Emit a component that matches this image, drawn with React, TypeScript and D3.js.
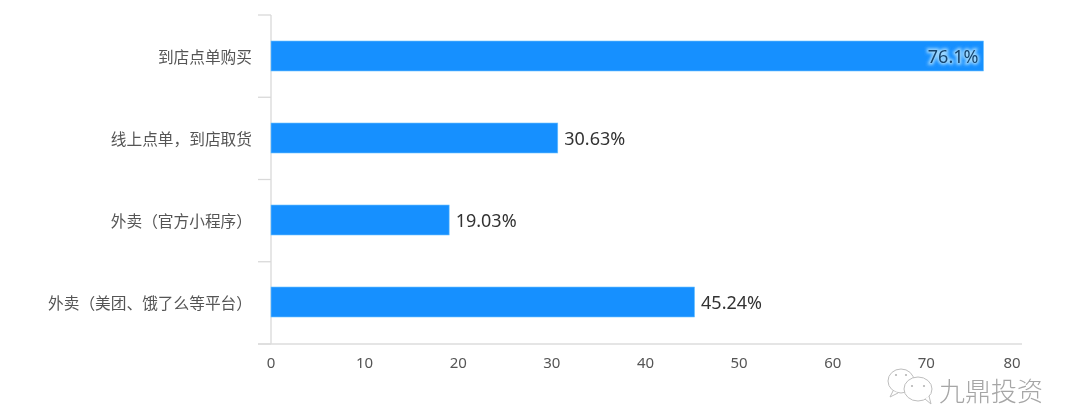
import React from "react";
import * as d3 from "d3";

const categories = ["到店点单购买", "线上点单，到店取货", "外卖（官方小程序）", "外卖（美团、饿了么等平台）"];
const values = [76.1, 30.63, 19.03, 45.24];
const valueLabels = ["76.1%", "30.63%", "19.03%", "45.24%"];
const xTicks = [0, 10, 20, 30, 40, 50, 60, 70, 80];
const watermark = "九鼎投资";

const FONT = '"Noto Sans CJK SC", "Noto Sans", sans-serif';
const x = d3.scaleLinear().domain([0, 80]).range([271, 1020]);
const y = d3.scaleBand<string>().domain(categories).range([15, 343]);
const yEdge = d3.scaleLinear().domain([0, categories.length]).range([15, 344]);
const BAR_H = 30;

export default function App() {
  const mid = (c: string) => (y(c) as number) + y.bandwidth() / 2;
  const edges = d3.range(categories.length + 1).map((i) => yEdge(i));
  return (
    <svg width={1080} height={406} style={{ position: "absolute", left: 0, top: 0, background: "#fff", fontFamily: FONT }}>
      <defs>
        <filter id="soft" x="-2%" y="-2%" width="104%" height="104%">
          <feGaussianBlur stdDeviation="0.45" />
        </filter>
        <filter id="halo" x="-20%" y="-40%" width="140%" height="180%">
          <feGaussianBlur stdDeviation="1.6" />
        </filter>
      </defs>
      <g filter="url(#soft)">
        {/* axes */}
        <line x1={x(0)} x2={x(0)} y1={15} y2={344} stroke="#d9d9d9" strokeWidth={1.3} />
        {edges.map((e, i) => (
          <line key={i} x1={258} x2={x(0)} y1={e} y2={e} stroke="#d9d9d9" strokeWidth={1.3} />
        ))}
        <line x1={258} x2={1022} y1={344} y2={344} stroke="#dcdcdc" strokeWidth={1.5} />

        {/* bars */}
        {categories.map((c, i) => (
          <rect key={c} x={x(0)} y={mid(c) - BAR_H / 2} width={x(values[i]) - x(0)} height={BAR_H} fill="#1890ff" stroke="#6cc4ff" strokeWidth={0.6} />
        ))}

        {/* category labels */}
        {categories.map((c) => (
          <text key={c} x={252} y={mid(c)} textAnchor="end" dominantBaseline="central" fontSize={15.7} fill="#555">
            {c}
          </text>
        ))}

        {/* value labels */}
        {categories.map((c, i) => {
          const inside = values[i] > 70;
          const tx = inside ? x(values[i]) - 5 : x(values[i]) + 6.5;
          const anchor = inside ? "end" : "start";
          return (
            <g key={c} fontFamily='"Noto Sans", sans-serif' fontSize={18}>
              {inside && (
                <text x={tx} y={mid(c)} textAnchor={anchor} dominantBaseline="central" fill="#9ad6ff" stroke="#9ad6ff" strokeWidth={3.5} filter="url(#halo)">
                  {valueLabels[i]}
                </text>
              )}
              <text x={tx} y={mid(c)} textAnchor={anchor} dominantBaseline="central" fill={inside ? "#16456f" : "#333"}>
                {valueLabels[i]}
              </text>
            </g>
          );
        })}

        {/* x tick labels */}
        {xTicks.map((t) => (
          <text key={t} x={t === 80 ? x(t) - 8 : x(t)} y={362} textAnchor="middle" dominantBaseline="central" fontFamily='"Noto Sans", sans-serif' fontSize={15} fill="#555">
            {t}
          </text>
        ))}

        {/* watermark */}
        <g fill="#fff" stroke="#bdbdbd" strokeWidth={1}>
          <ellipse cx={901} cy={381} rx={13} ry={12} />
          <path d="M893 391 L890 397 L898 393" />
          <ellipse cx={918} cy={389} rx={14} ry={12} />
          <path d="M925 399 L931 404 L929 396" />
        </g>
        <g fill="#b5b5b5">
          <circle cx={896} cy={375} r={1.1} />
          <circle cx={906} cy={375} r={1.1} />
          <circle cx={912} cy={386} r={1.1} />
          <circle cx={924} cy={386} r={1.1} />
        </g>
        <text x={939} y={389} dominantBaseline="central" fontSize={26} fontWeight={300} fill="#a6a6a6">
          {watermark}
        </text>
      </g>
    </svg>
  );
}
